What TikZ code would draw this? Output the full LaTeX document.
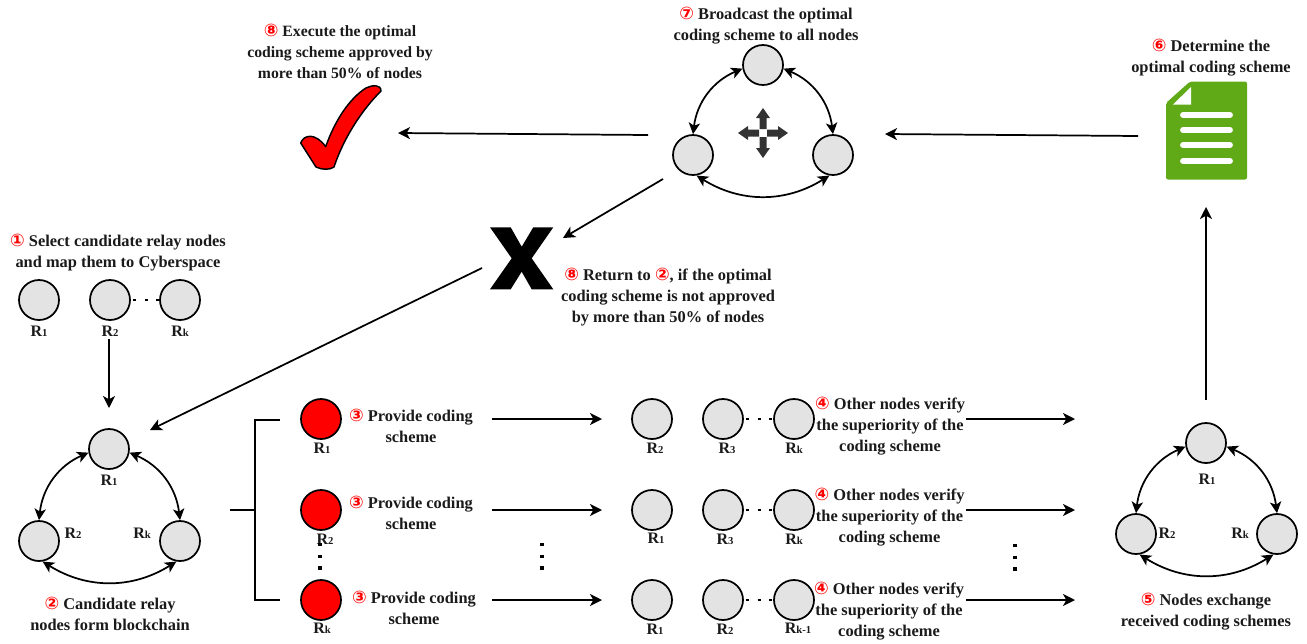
\documentclass[tikz,border=0pt]{standalone}
\usepackage{fontspec}
\setmainfont{Liberation Serif}
\newfontfamily\numfont{DejaVu Sans}
\usetikzlibrary{arrows.meta}
\definecolor{nodegray}{HTML}{E3E3E3}
\definecolor{docgreen}{HTML}{60A917}
\definecolor{iconblack}{HTML}{333333}
\definecolor{txt}{HTML}{1A1A1A}
\newcommand{\cn}[1]{{\numfont\bfseries\fontsize{13}{13}\selectfont\color{red}#1}}
\newcommand{\rr}[2]{R{\footnotesize #2}}
\tikzset{
  x=0.75pt,y=-0.75pt,
  relay/.style={circle,draw=black,line width=1.3pt,fill=nodegray,minimum size=30pt,inner sep=0pt},
  redrelay/.style={relay,fill=red},
  lab/.style={font=\bfseries\fontsize{12}{12}\selectfont,text=txt,inner sep=0pt},
  captext/.style={font=\bfseries\fontsize{12.3}{15.8}\selectfont,text=txt,align=center,inner sep=0pt},
  flow/.style={-{Stealth[length=9pt,width=9pt,inset=2.5pt]},line width=1.3pt,black},
  ring/.style={{Stealth[length=8.5pt,width=8.5pt,inset=2.2pt]}-{Stealth[length=8.5pt,width=8.5pt,inset=2.2pt]},line width=1.3pt,black},
  plain/.style={line width=1.2pt,black},
  dotline/.style={line width=2.2pt,black,dash pattern=on 2.2pt off 6.6pt,shorten <=1.5pt},
  dotcol/.style={line width=2.4pt,black,dash pattern=on 2.6pt off 6.2pt},
}
\begin{document}
\begin{tikzpicture}
\useasboundingbox (0,0) rectangle (1307,643);

% step 1
\node[relay] (a1) at (39,300) {};
\node[relay] (a2) at (110,300) {};
\node[relay] (ak) at (180,300) {};
\draw[dotline] (a2.east) -- (ak.west);
\node[lab] (la1) at (39,331) {\rr{}{1}};
\node[lab] (la2) at (110,331) {\rr{}{2}};
\node[lab] (lak) at (180,331) {\rr{}{k}};
\node[captext] (c1) at (118,253) {\cn{①} Select candidate relay nodes\\and map them to Cyberspace};

% step 2 ring
\node[relay] (bt) at (109,449) {};
\node[relay] (bl) at (39,541) {};
\node[relay] (br) at (180,541) {};
\draw[ring] (bt.190) to[bend right=30] (bl.90);
\draw[ring] (bt.-10) to[bend left=30] (br.90);
\draw[ring] (bl.-80) to[bend right=32] (br.-100);
\node[lab] (lbt) at (109,480) {\rr{}{1}};
\node[lab] (lbl) at (73,533) {\rr{}{2}};
\node[lab] (lbr) at (142,533) {\rr{}{k}};
\node[captext] (c2) at (110,613.5) {\cn{②} Candidate relay\\nodes form blockchain};
\coordinate (ba) at (109,339);
\coordinate (bb) at (109,408);
\draw[flow] (ba) -- (bb);

% bracket
\coordinate (brc) at (230,510);
\coordinate (brm) at (255,510);
\coordinate (brt) at (280,420);
\coordinate (brb) at (280,600);
\draw[plain] (brc) -- (brm);
\draw[plain] (brt) -| (brm) |- (brb);

% red proposers
\node[redrelay] (p1) at (321,419) {};
\node[redrelay] (p2) at (321,510) {};
\node[redrelay] (p3) at (321,600) {};
\node[lab] (lp1) at (322,448) {\rr{}{1}};
\node[lab] (lp2) at (325,539) {\rr{}{2}};
\node[lab] (lp3) at (322,628) {\rr{}{k}};
\coordinate (pd1) at (320,543);
\coordinate (pd2) at (320,570);
\draw[dotcol] (pd1) -- (pd2);
\node[captext] (c31) at (411,426) {\cn{③} Provide coding\\scheme};
\node[captext] (c32) at (411,513) {\cn{③} Provide coding\\scheme};
\node[captext] (c33) at (414,608) {\cn{③} Provide coding\\scheme};

% row arrows, middle
\coordinate (f1a) at (492,419); \coordinate (f1b) at (602,419);
\coordinate (f2a) at (492,510); \coordinate (f2b) at (602,510);
\coordinate (f3a) at (492,600); \coordinate (f3b) at (602,600);
\draw[flow] (f1a) -- (f1b);
\draw[flow] (f2a) -- (f2b);
\draw[flow] (f3a) -- (f3b);
\coordinate (md1) at (542,543);
\coordinate (md2) at (542,570);
\draw[dotcol] (md1) -- (md2);

% verifiers
\node[relay] (v11) at (652,419) {};
\node[relay] (v12) at (723,419) {};
\node[relay] (v13) at (794,419) {};
\node[relay] (v21) at (652,510) {};
\node[relay] (v22) at (723,510) {};
\node[relay] (v23) at (794,510) {};
\node[relay] (v31) at (652,600) {};
\node[relay] (v32) at (723,600) {};
\node[relay] (v33) at (794,600) {};
\draw[dotline] (v12.east) -- (v13.west);
\draw[dotline] (v22.east) -- (v23.west);
\draw[dotline] (v32.east) -- (v33.west);
\node[lab] (lv11) at (655,448) {\rr{}{2}};
\node[lab] (lv12) at (727,448) {\rr{}{3}};
\node[lab] (lv13) at (794,448) {\rr{}{k}};
\node[lab] (lv21) at (656,538) {\rr{}{1}};
\node[lab] (lv22) at (725,539) {\rr{}{3}};
\node[lab] (lv23) at (794,539) {\rr{}{k}};
\node[lab] (lv31) at (655,629) {\rr{}{1}};
\node[lab] (lv32) at (725,629) {\rr{}{2}};
\node[lab] (lv33) at (798,628) {\rr{}{k-1}};
\node[captext] (c41) at (890,426.5) {\cn{④} Other nodes verify\\the superiority of the\\coding scheme};
\node[captext] (c42) at (889.5,517.5) {\cn{④} Other nodes verify\\the superiority of the\\coding scheme};
\node[captext] (c43) at (889,611.5) {\cn{④} Other nodes verify\\the superiority of the\\coding scheme};

% row arrows, right
\coordinate (g1a) at (966,419); \coordinate (g1b) at (1075,419);
\coordinate (g2a) at (966,510); \coordinate (g2b) at (1075,510);
\coordinate (g3a) at (966,600); \coordinate (g3b) at (1075,600);
\draw[flow] (g1a) -- (g1b);
\draw[flow] (g2a) -- (g2b);
\draw[flow] (g3a) -- (g3b);
\coordinate (rd1) at (1015,544);
\coordinate (rd2) at (1015,571);
\draw[dotcol] (rd1) -- (rd2);

% step 5 ring
\node[relay] (dt) at (1206,443) {};
\node[relay] (dl) at (1136,534) {};
\node[relay] (dr) at (1277,534) {};
\draw[ring] (dt.190) to[bend right=30] (dl.90);
\draw[ring] (dt.-10) to[bend left=30] (dr.90);
\draw[ring] (dl.-80) to[bend right=32] (dr.-100);
\node[lab] (ldt) at (1207,479) {\rr{}{1}};
\node[lab] (ldl) at (1167,533) {\rr{}{2}};
\node[lab] (ldr) at (1240,533) {\rr{}{k}};
\node[captext] (c5) at (1206,612) {\cn{⑤} Nodes exchange\\received coding schemes};

% step 6 document
\coordinate (upa) at (1206,400); \coordinate (upb) at (1206,207);
\draw[flow] (upa) -- (upb);
\node[captext] (c6) at (1211,57.5) {\cn{⑥} Determine the\\optimal coding scheme};
\fill[docgreen,rounded corners=1.5pt] (1190,81.5) -- (1247,81.5) -- (1247,179.5) -- (1166,179.5) -- (1166,103) -- cycle;
\fill[white] (1173,104.5) -- (1191,104.5) -- (1191,87) -- cycle;
\foreach \yy in {115,130,145,161}
  \draw[white,line width=4.4pt,line cap=round] (1183,\yy) -- (1230,\yy);

% step 7 ring
\node[relay] (et) at (763,65) {};
\node[relay] (el) at (693,155) {};
\node[relay] (er) at (833,155) {};
\draw[ring] (et.190) to[bend right=30] (el.90);
\draw[ring] (et.-10) to[bend left=30] (er.90);
\draw[ring] (el.-80) to[bend right=32] (er.-100);
\node[captext] (c7) at (766,25.5) {\cn{⑦} Broadcast the optimal\\coding scheme to all nodes};
\foreach \ang in {0,90,180,270}
  \fill[iconblack,rotate around={\ang:(763,133)}]
    (767,129.5) -- (778,129.5) -- (778,126) -- (788,133) -- (778,140) -- (778,136.5) -- (767,136.5) -- cycle;

% arrows of the top row
\coordinate (h1a) at (1138,136); \coordinate (h1b) at (885,134);
\draw[flow] (h1a) -- (h1b);
\coordinate (h2a) at (648,135); \coordinate (h2b) at (398,133);
\draw[flow] (h2a) -- (h2b);
\coordinate (h3a) at (663,179); \coordinate (h3b) at (563,238);
\draw[flow] (h3a) -- (h3b);
\coordinate (h4a) at (482,268); \coordinate (h4b) at (150,430);
\draw[flow] (h4a) -- (h4b);

% step 8 check
\filldraw[fill=red,draw=black,line width=1.1pt,line join=round]
  (300.7,143) .. controls (304,134) and (316,133) .. (325.7,146.7)
  .. controls (335,120) and (350,98) .. (366,88)
  .. controls (372,85) and (381,84) .. (381,91)
  .. controls (360,112) and (343,140) .. (334,167)
  .. controls (330,170) and (322,170) .. (316,167) -- cycle;
\node[captext,font=\bfseries\fontsize{11.8}{15.8}\selectfont] (c81) at (340,51.5) {\cn{⑧} Execute the optimal\\coding scheme approved by\\more than 50\% of nodes};

% step 8 cross
\fill[black] (490,227.3) -- (510.7,227.3) -- (521.7,246.7) -- (533.3,227.3) -- (553.3,227.3)
  -- (531.7,258.3) -- (553.3,289.3) -- (531.7,289.3) -- (521.7,271.7) -- (510.7,289.3)
  -- (490,289.3) -- (511.7,258.3) -- cycle;
\node[captext] (c82) at (668,297.5) {\cn{⑧} Return to \cn{②}, if the optimal\\coding scheme is not approved\\by more than 50\% of nodes};
\end{tikzpicture}
\end{document}
